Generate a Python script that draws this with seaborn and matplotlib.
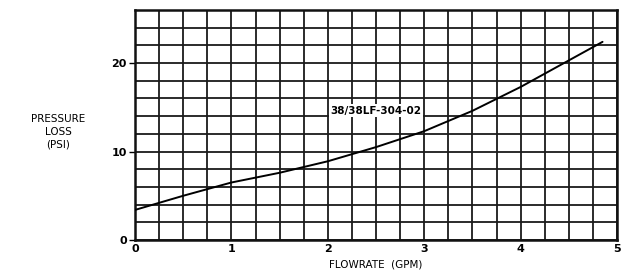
import numpy as np
import pandas as pd
import matplotlib
matplotlib.use("Agg")
import matplotlib.pyplot as plt
import seaborn as sns

# curve
flow_gpm = [0, 0.5, 1.0, 1.5, 2.0, 2.5, 3.0, 3.5, 4.0, 4.5, 4.85]
loss_psi = [3.4, 5.0, 6.5, 7.6, 8.9, 10.5, 12.3, 14.6, 17.3, 20.3, 22.4]
x_ticks = [0, 1, 2, 3, 4, 5]
y_ticks = [0, 10, 20]
model_label = "38/38LF-304-02"

df = pd.DataFrame({"flow": flow_gpm, "loss": loss_psi})

sns.set_style("white")
plt.rcParams['font.family'] = ['DejaVu Sans']
plt.rcParams['text.color'] = 'black'
plt.rcParams['xtick.color'] = 'black'
plt.rcParams['ytick.color'] = 'black'
plt.rcParams['axes.labelcolor'] = 'black'

fig = plt.figure(figsize=(6.28, 2.75), dpi=100)
ax = fig.add_axes([135 / 628, 35 / 275, 482 / 628, 230 / 275])

# grid: 0.25 GPM by 2 PSI
for gx in np.arange(0, 5.01, 0.25):
    ax.axvline(gx, color="#1a1a1a", lw=1.3, zorder=1)
for gy in np.arange(0, 26.01, 2):
    ax.axhline(gy, color="#1a1a1a", lw=1.3, zorder=1)

sns.lineplot(data=df, x="flow", y="loss", ax=ax, color="black", lw=1.4,
             estimator=None, sort=True, zorder=3)

ax.set_xlim(0, 5)
ax.set_ylim(0, 26)
ax.set_xticks(x_ticks)
ax.set_yticks(y_ticks)
ax.set_xticklabels([str(t) for t in x_ticks], fontsize=8, fontweight="bold")
ax.set_yticklabels([str(t) for t in y_ticks], fontsize=8, fontweight="bold")
ax.tick_params(axis="y", length=4, width=1, direction="out", left=True, pad=2)
ax.tick_params(axis="x", length=0, pad=3)
for s in ax.spines.values():
    s.set_linewidth(1.8)
    s.set_color("#111111")

ax.set_xlabel("FLOWRATE  (GPM)", fontsize=7.5, labelpad=4)
ax.set_ylabel("")
fig.text(58 / 628, 1 - 132 / 275, "PRESSURE\nLOSS\n(PSI)", fontsize=7.5,
         ha="center", va="center", linespacing=1.35)

ax.text(2.5, 14.6, model_label, fontsize=7.5, fontweight="bold",
        ha="center", va="center", zorder=4,
        bbox=dict(facecolor="white", edgecolor="none", pad=1))

fig.savefig("out.png", dpi=100)
